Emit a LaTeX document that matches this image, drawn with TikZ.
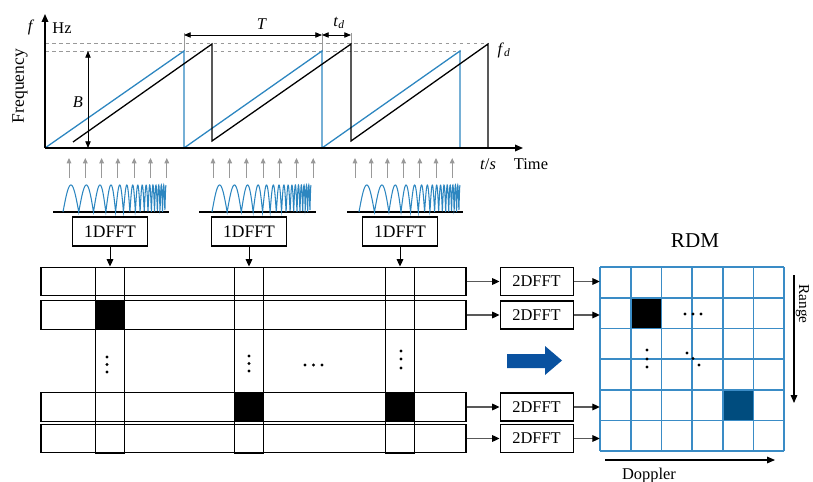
\documentclass[tikz,border=0pt]{standalone}
\usepackage{fontspec}
\setmainfont{Liberation Serif}
\usetikzlibrary{arrows.meta, positioning, calc}
\definecolor{chirp}{HTML}{2C86C0}
\definecolor{gridblue}{HTML}{3A8CC6}
\definecolor{cellblue}{HTML}{004C7E}
\definecolor{bigarrow}{HTML}{0A52A0}

\begin{document}
\begin{tikzpicture}[x=0.03cm, y=-0.03cm,
    every node/.style={font=\fontsize{14}{16}\selectfont, inner sep=0pt},
    box/.style={draw, line width=0.9pt, minimum width=2.25cm, minimum height=0.87cm, font=\fontsize{15}{17}\selectfont},
    box2/.style={draw, line width=0.9pt, minimum width=2.19cm, minimum height=0.84cm},
    rowbar/.style={draw, line width=0.9pt, minimum width=12.75cm, minimum height=0.855cm},
    colbar/.style={draw, line width=0.8pt, minimum width=0.87cm, minimum height=5.58cm},
    arr/.style={-{Triangle[length=2.2mm, width=2mm]}, line width=0.8pt},
    garr/.style={-{Triangle[length=2.2mm, width=2mm, color=black]}, line width=0.9pt, draw=black!65},
    samp/.style={-{Triangle[length=1.6mm, width=1.4mm]}, draw=black!40, line width=0.8pt},
    ax/.style={-{Triangle[length=2.4mm, width=2mm]}, line width=1.1pt},
    dim/.style={{Triangle[length=2mm, width=1.6mm]}-{Triangle[length=2mm, width=1.6mm]}, line width=0.7pt},
    dashln/.style={draw=black!40, dashed, line width=0.7pt},
    gridln/.style={draw=gridblue, line width=1.4pt}
]
    \useasboundingbox (0,0) rectangle (813,482);

    % chart: dashed levels and guide ticks
    \draw[dashln] (45,43) -- (488,43);
    \draw[dashln] (45,51) -- (460,51);
    \draw[black!40, line width=0.6pt] (184,33) -- (184,51);
    \draw[black!40, line width=0.6pt] (322,33) -- (322,51);
    \draw[black!40, line width=0.6pt] (351,33) -- (351,44);

    % transmitted ramps (blue) and echo (black)
    \draw[chirp, line width=1.1pt] (45,148) -- (184,51) -- (184,148) -- (322,51) -- (322,148) -- (460,51) -- (460,148);
    \draw[line width=1.1pt] (73,142) -- (212,44) -- (212,141) -- (351,44) -- (351,141) -- (488,44) -- (488,148);

    % axes
    \coordinate (o) at (45,148);
    \coordinate (ytop) at (45,14);
    \coordinate (xend) at (523,148);
    \draw[ax] (o) -- (ytop);
    \draw[ax] (o) -- (xend);
    \node (flbl) at (31,27) {\textit{f}};
    \node (hzlbl) at (62,28) {Hz};
    \node[rotate=90, font=\fontsize{15}{17}\selectfont] (freqlbl) at (20,86) {Frequency};
    \node (tslbl) at (488,164) {\textit{t}/\textit{s}};
    \node (timelbl) at (531,164) {Time};

    % bandwidth, period and delay
    \draw[dim] (88,51) -- (88,148);
    \node (blbl) at (78,102) {\textit{B}};
    \draw[dim] (184,35) -- (322,35);
    \node (tlbl) at (262,24) {\textit{T}};
    \draw[dim] (322,35) -- (351,35);
    \node (tdlbl) at (339,23) {\textit{t}\textsubscript{\textit{d}}};
    \node (fdlbl) at (504,50) {\textit{f}\textsubscript{\textit{d}}};

    % sampling arrows
    \foreach \g/\d in {69/16.3, 213/16.7, 355/16.2}
        \foreach \s in {0,...,6}
            \draw[samp] ({\g+\d*\s},178) -- ++(0,-20);

    % beat signals
    \foreach \a/\b/\c/\w in {53/169/63/103, 199/316/212/99, 347/463/359/101} {
        \draw[line width=1pt] (\a,212) -- (\b,212);
        \draw[chirp, line width=0.9pt] plot[domain=0:1, samples=600]
            ({\c+\w*\x}, {212-27*abs(sin(180*(6.5*\x+10*\x^4)))});
    }

    % range FFT
    \node[box] (f1) at (110,231.5) {1DFFT};
    \node[box] (f2) at (249,231.5) {1DFFT};
    \node[box] (f3) at (400,231.5) {1DFFT};

    % data matrix: chirp rows and range columns
    \node[rowbar] (r1) at (253.5,281.5) {};
    \node[rowbar] (r2) at (253.5,315) {};
    \node[rowbar] (r3) at (253.5,407) {};
    \node[rowbar] (r4) at (253.5,438.5) {};
    \node[colbar] (c1) at (110,360) {};
    \node[colbar] (c2) at (249,360) {};
    \node[colbar] (c3) at (400,360) {};
    \fill (c1.west |- r2.north) rectangle (c1.east |- r2.south);
    \fill (c2.west |- r3.north) rectangle (c2.east |- r3.south);
    \fill (c3.west |- r3.north) rectangle (c3.east |- r3.south);
    \draw[arr] (f1) -- (c1.north);
    \draw[arr] (f2) -- (c2.north);
    \draw[arr] (f3) -- (c3.north);
    \foreach \p in {(107,357),(107,364.5),(107,372),(249,356),(249,363.5),(249,371),
                    (401,351),(401,359),(401,368),(305,365),(313.5,365),(322,365)}
        \fill \p circle[radius=1.3pt];

    % Doppler FFT
    \node[box2, right=0.99cm of r1] (g1) {2DFFT};
    \node[box2, right=0.99cm of r2] (g2) {2DFFT};
    \node[box2, right=0.99cm of r3] (g3) {2DFFT};
    \node[box2, right=0.99cm of r4] (g4) {2DFFT};
    \draw[garr] (r1) -- (g1);
    \draw[garr] (r2) -- (g2);
    \draw[garr] (r3) -- (g3);
    \draw[garr] (r4) -- (g4);

    % big arrow
    \fill[bigarrow] (507,354) -- (545,354) -- (545,346) -- (562,360.5) -- (545,375) -- (545,368) -- (507,368) -- cycle;

    % range-Doppler map
    \node[minimum size=5.52cm] (rdm) at (692,359) {};
    \fill (630.67,297.67) rectangle (661.33,328.33);
    \fill[cellblue] (722.67,389.67) rectangle (753.33,420.33);
    \foreach \i in {0,...,6} {
        \draw[gridln] ({600.3+30.667*\i},267) -- ({600.3+30.667*\i},451);
        \draw[gridln] (600,{267.3+30.667*\i}) -- (784,{267.3+30.667*\i});
    }
    \draw[garr] (g1) -- (g1 -| rdm.west);
    \draw[garr] (g2) -- (g2 -| rdm.west);
    \draw[garr] (g3) -- (g3 -| rdm.west);
    \draw[garr] (g4) -- (g4 -| rdm.west);
    \foreach \p in {(685,314),(693,314),(701,314),(647,350),(647,359),(647,367),
                    (687,353),(693,358.5),(699,365)}
        \fill \p circle[radius=1.3pt];
    \node[font=\fontsize{18}{20}\selectfont] (rdmlbl) at (695,241) {RDM};

    % axes of the map
    \coordinate (rtop) at (794,275);
    \coordinate (rbot) at (794,403);
    \draw[ax, line width=0.9pt] (rtop) -- (rbot);
    \node[rotate=-90, anchor=base, font=\fontsize{13}{15}\selectfont] (rangelbl) at (799,304) {Range};
    \coordinate (dl) at (605,460);
    \coordinate (dr) at (775,460);
    \draw[ax, line width=0.9pt] (dl) -- (dr);
    \node[anchor=base] (dopplbl) at (649,479) {Doppler};
\end{tikzpicture}
\end{document}
